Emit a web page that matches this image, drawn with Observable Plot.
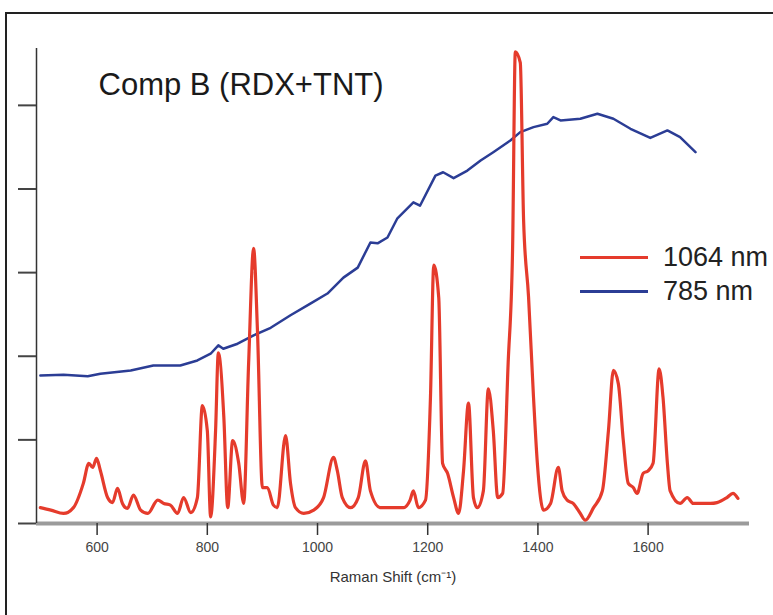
<!DOCTYPE html>
<html><head><meta charset="utf-8">
<script src="https://cdn.jsdelivr.net/npm/d3@7"></script>
<script src="https://cdn.jsdelivr.net/npm/@observablehq/plot@0.6"></script>
<style>
body{margin:0;background:#fff;}
#wrap{position:relative;width:773px;height:615px;overflow:hidden;font-family:"Liberation Sans",Arial,sans-serif;}
#wrap svg{position:absolute;left:0;top:0;}
#frame{position:absolute;left:5px;top:12px;width:800px;height:700px;border-left:2px solid #222;border-top:2px solid #222;}
.leg{position:absolute;left:580px;display:flex;align-items:center;font-size:27px;color:#222;white-space:nowrap;line-height:1}
.sw{display:inline-block;width:68px;height:3px;margin-right:15px}
</style></head><body><div id="wrap"></div>
<script>
// Series names and colours
const seriesNames = ["1064 nm", "785 nm"];
const seriesColors = ["#e53b2c", "#2b3d95"];

// 1064 nm excitation spectrum (Raman shift, intensity)
const shift1064 = [497,516,539,557,575,585,592,599,606,619,628,637,646,655,666,679,692,710,721,733,746,757,770,782,791,800,806,815,820,830,837,846,857,866,875,884,891,900,909,920,927,942,951,960,975,993,1011,1029,1036,1045,1060,1074,1087,1096,1114,1132,1156,1168,1174,1183,1196,1205,1211,1220,1227,1236,1247,1256,1265,1274,1283,1290,1301,1310,1319,1327,1336,1346,1354,1359,1368,1374,1383,1392,1399,1410,1423,1437,1444,1453,1464,1477,1486,1501,1517,1528,1537,1546,1555,1564,1573,1580,1591,1600,1609,1620,1627,1635,1640,1658,1671,1682,1695,1713,1725,1743,1754,1763];
const int1064 = [0.19,0.16,0.12,0.19,0.48,0.72,0.67,0.78,0.63,0.31,0.25,0.42,0.24,0.18,0.34,0.16,0.12,0.28,0.24,0.22,0.12,0.31,0.13,0.31,1.41,1.11,0.08,1.11,2.04,1.27,0.19,0.99,0.72,0.24,1.92,3.29,2.31,0.43,0.43,0.22,0.19,1.05,0.48,0.19,0.12,0.16,0.31,0.79,0.63,0.31,0.19,0.31,0.75,0.39,0.19,0.19,0.19,0.28,0.39,0.19,0.28,1.51,3.09,2.70,0.72,0.60,0.31,0.12,0.63,1.44,0.31,0.19,0.39,1.61,1.11,0.31,0.36,1.92,3.27,5.64,5.51,3.63,2.71,1.51,0.72,0.16,0.24,0.67,0.39,0.28,0.24,0.12,0.04,0.19,0.39,1.11,1.83,1.67,0.99,0.48,0.43,0.36,0.60,0.63,0.72,1.85,1.51,0.72,0.39,0.24,0.31,0.24,0.24,0.24,0.25,0.31,0.36,0.30];

// 785 nm excitation spectrum (Raman shift, intensity)
const shift785 = [497,539,583,606,661,702,751,782,806,820,829,855,884,915,951,987,1018,1047,1073,1096,1109,1127,1145,1174,1186,1214,1228,1247,1272,1296,1319,1350,1368,1392,1417,1428,1441,1477,1508,1537,1568,1604,1635,1658,1686];
const int785 = [1.77,1.78,1.76,1.79,1.83,1.89,1.89,1.95,2.03,2.13,2.09,2.15,2.25,2.34,2.49,2.63,2.75,2.94,3.06,3.36,3.35,3.42,3.65,3.84,3.80,4.16,4.20,4.13,4.22,4.34,4.44,4.58,4.68,4.74,4.78,4.86,4.82,4.84,4.90,4.84,4.72,4.61,4.70,4.62,4.44];

// Axes
const xTicks = [600, 800, 1000, 1200, 1400, 1600];
const yTicks = [0, 1, 2, 3, 4, 5];
const xDomain = [490, 1784];
const yDomain = [0, 5.68];
const titleText = "Comp B (RDX+TNT)";
const xLabel = "Raman Shift (cm\u207B\u00B9)";

const red = shift1064.map((x, i) => ({x, y: int1064[i]}));
const blue = shift785.map((x, i) => ({x, y: int785[i]}));

const chart = Plot.plot({
  width: 773, height: 615,
  marginLeft: 36, marginRight: 24, marginTop: 48, marginBottom: 92,
  style: {fontFamily: "'Liberation Sans', Arial, sans-serif", fontSize: "14px", color: "#333", background: "transparent"},
  x: {domain: xDomain},
  y: {domain: yDomain},
  marks: [
    Plot.ruleY([yDomain[0]], {stroke: "#9b9b9b", strokeWidth: 4}),
    Plot.ruleX([xDomain[0]], {stroke: "#333", strokeWidth: 1.5}),
    Plot.axisY({ticks: yTicks, tickSize: 18, tickFormat: () => "", stroke: "#444", strokeWidth: 2, label: null}),
    Plot.axisX({ticks: xTicks, tickSize: 12, tickPadding: 7, stroke: "#333", strokeWidth: 1.5, label: null, tickFormat: d3.format("d"), fill: "#444"}),
    Plot.line(blue, {x: "x", y: "y", stroke: seriesColors[1], strokeWidth: 2.5, strokeLinejoin: "round"}),
    Plot.line(red, {x: "x", y: "y", stroke: seriesColors[0], strokeWidth: 3.2, strokeLinejoin: "round", curve: "monotone-x"}),
    Plot.text([titleText], {frameAnchor: "top-left", dx: 62, dy: 46, lineAnchor: "bottom", fontSize: 31, fill: "#1a1a1a"}),
    Plot.text([xLabel], {frameAnchor: "bottom", dy: 58, fontSize: 15, fill: "#333"})
  ]
});

const wrap = document.getElementById("wrap");
wrap.appendChild(chart);
const frame = document.createElement("div");
frame.id = "frame";
wrap.appendChild(frame);
const legTops = [244, 278];
seriesNames.forEach((name, i) => {
  const row = document.createElement("div");
  row.className = "leg";
  row.style.top = legTops[i] + "px";
  const sw = document.createElement("span");
  sw.className = "sw";
  sw.style.background = seriesColors[i];
  row.appendChild(sw);
  row.appendChild(document.createTextNode(name));
  wrap.appendChild(row);
});
</script>
</body></html>
